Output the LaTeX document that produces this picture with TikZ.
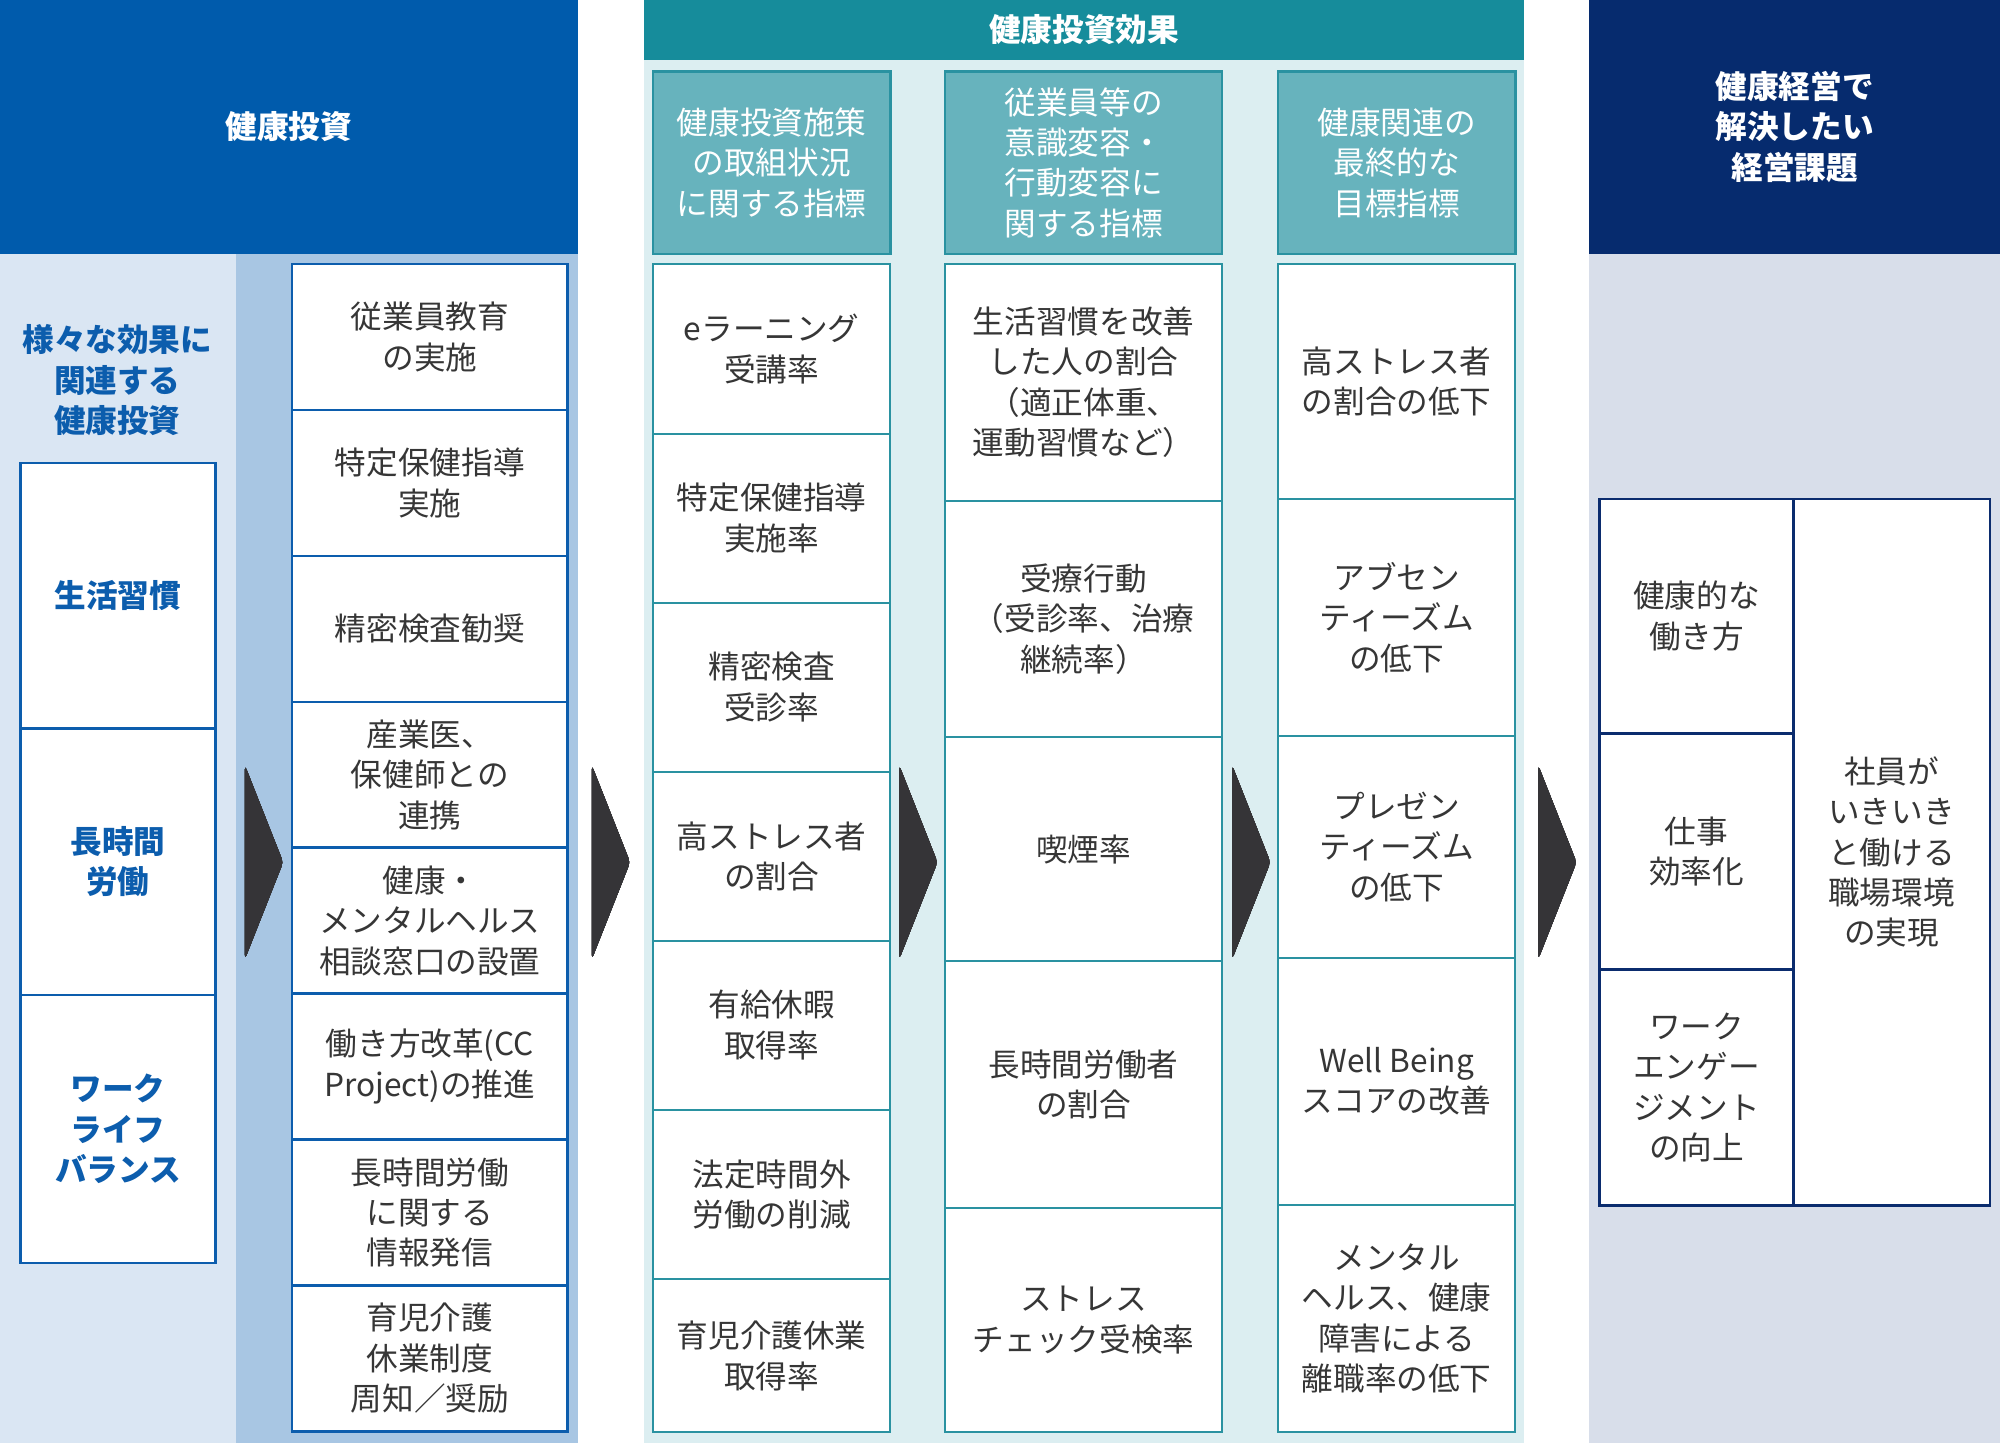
\documentclass[tikz,border=0pt]{standalone}
\usepackage{fontspec}
\usepackage{tikz}
\newfontfamily\jp{Noto Sans CJK JP}
\definecolor{hdrblue}{HTML}{005BAC}
\definecolor{bgsky}{HTML}{DAE6F3}
\definecolor{bgblue}{HTML}{A8C6E3}
\definecolor{lineblue}{HTML}{0C5DAD}
\definecolor{hdrteal}{HTML}{168C9B}
\definecolor{bgteal}{HTML}{DCEEF1}
\definecolor{subteal}{HTML}{67B3BD}
\definecolor{lineteal}{HTML}{2A92A1}
\definecolor{hdrnavy}{HTML}{062B6E}
\definecolor{bgnavy}{HTML}{D8DEEA}
\definecolor{linenavy}{HTML}{0B2C6E}
\definecolor{txtgray}{HTML}{363636}
\definecolor{chevgray}{HTML}{353437}
\newcommand{\boxcell}[7]{\node[#1, minimum width={((#5)-(#3))*0.01275cm}, minimum height={((#6)-(#4))*0.01275cm}] (#2) at ({((#3)+(#5))/2},{((#4)+(#6))/2}) {#7};}

\begin{document}
\begin{tikzpicture}[x=0.01275cm, y=-0.01275cm,
  txt/.style={font=\jp\fontsize{9}{11.5}\selectfont, align=center, inner sep=0pt},
  hdr/.style={txt, fill=#1, text=white, font=\jp\bfseries\fontsize{9}{11.5}\selectfont},
  subhdr/.style={txt, fill=subteal, draw=lineteal, line width=0.7pt, text=white},
  bluecell/.style={txt, fill=white, draw=lineblue, line width=0.7pt, text=txtgray},
  keycell/.style={bluecell, text=lineblue, font=\jp\bfseries\fontsize{9}{11.5}\selectfont},
  tealcell/.style={txt, fill=white, draw=lineteal, line width=0.6pt, text=txtgray},
  navycell/.style={txt, fill=white, draw=linenavy, line width=0.7pt, text=txtgray}]
\useasboundingbox (0,0) rectangle (1568,1131);
\fill[bgsky] (0,199) rectangle (185,1131);
\fill[bgblue] (185,199) rectangle (453,1131);
\fill[bgteal] (505,47) rectangle (1195,1131);
\fill[bgnavy] (1246,199) rectangle (1568,1131);
\boxcell{hdr=hdrblue}{invHdr}{0}{0}{453}{199}{健康投資}
\boxcell{hdr=hdrteal}{effHdr}{505}{0}{1195}{47}{健康投資効果}
\boxcell{hdr=hdrnavy}{issueHdr}{1246}{0}{1568}{199}{健康経営で\\解決したい\\経営課題}
\node[txt, text=lineblue, font=\jp\bfseries\fontsize{9}{11.5}\selectfont] (keyLbl) at (92,298) {様々な効果に\\関連する\\健康投資};
\boxcell{keycell}{keyLife}{16}{363}{169}{571}{生活習慣}
\boxcell{keycell}{keyHours}{16}{571}{169}{780}{長時間\\労働}
\boxcell{keycell}{keyWlb}{16}{780}{169}{990}{ワーク\\ライフ\\バランス}
\foreach \i/\t in {0/{従業員教育\\の実施}, 1/{特定保健指導\\実施}, 2/{精密検査勧奨},
  3/{産業医、\\保健師との\\連携}, 4/{健康・\\メンタルヘルス\\相談窓口の設置},
  5/{働き方改革(CC\\Project)の推進}, 6/{長時間労働\\に関する\\情報発信},
  7/{育児介護\\休業制度\\周知／奨励}}
  \boxcell{bluecell}{inv\i}{229}{207+\i*114.4}{445}{321.4+\i*114.4}{\t}
\boxcell{subhdr}{subA}{512}{56}{698}{199}{健康投資施策\\の取組状況\\に関する指標}
\boxcell{subhdr}{subB}{741}{56}{958}{199}{従業員等の\\意識変容・\\行動変容に\\関する指標}
\boxcell{subhdr}{subC}{1002}{56}{1188}{199}{健康関連の\\最終的な\\目標指標}
\boxcell{tealcell}{mA1}{512}{207}{698}{340}{eラーニング\\受講率}
\boxcell{tealcell}{mA2}{512}{340}{698}{472.5}{特定保健指導\\実施率}
\boxcell{tealcell}{mA3}{512}{472.5}{698}{605}{精密検査\\受診率}
\boxcell{tealcell}{mA4}{512}{605}{698}{737.5}{高ストレス者\\の割合}
\boxcell{tealcell}{mA5}{512}{737.5}{698}{870}{有給休暇\\取得率}
\boxcell{tealcell}{mA6}{512}{870}{698}{1003}{法定時間外\\労働の削減}
\boxcell{tealcell}{mA7}{512}{1003}{698}{1123}{育児介護休業\\取得率}
\boxcell{tealcell}{mB1}{741}{207}{958}{392.5}{生活習慣を改善\\した人の割合\\（適正体重、\\運動習慣など）}
\boxcell{tealcell}{mB2}{741}{392.5}{958}{578}{受療行動\\（受診率、治療\\継続率）}
\boxcell{tealcell}{mB3}{741}{578}{958}{753.6}{喫煙率}
\boxcell{tealcell}{mB4}{741}{753.6}{958}{947}{長時間労働者\\の割合}
\boxcell{tealcell}{mB5}{741}{947}{958}{1123}{ストレス\\チェック受検率}
\boxcell{tealcell}{mC1}{1002}{207}{1188}{391}{高ストレス者\\の割合の低下}
\boxcell{tealcell}{mC2}{1002}{391}{1188}{577}{アブセン\\ティーズム\\の低下}
\boxcell{tealcell}{mC3}{1002}{577}{1188}{751}{プレゼン\\ティーズム\\の低下}
\boxcell{tealcell}{mC4}{1002}{751}{1188}{944.5}{Well Being\\スコアの改善}
\boxcell{tealcell}{mC5}{1002}{944.5}{1188}{1123}{メンタル\\ヘルス、健康\\障害による\\離職率の低下}
\boxcell{navycell}{goalA}{1254}{391}{1406}{575}{健康的な\\働き方}
\boxcell{navycell}{goalB}{1254}{575}{1406}{760}{仕事\\効率化}
\boxcell{navycell}{goalC}{1254}{760}{1406}{945}{ワーク\\エンゲー\\ジメント\\の向上}
\boxcell{navycell}{goalAll}{1406}{391}{1560}{945}{社員が\\いきいき\\と働ける\\職場環境\\の実現}
\foreach \ax in {192,464,705,966,1206}
  \fill[chevgray, rounded corners=1.2pt] (\ax,600) -- (\ax+30,676) -- (\ax,752) -- cycle;
\end{tikzpicture}
\end{document}
